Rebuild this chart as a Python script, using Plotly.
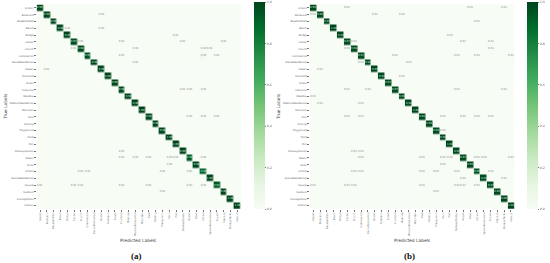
import plotly.graph_objects as go

categories = ["Airport","BareLand","BaseballField","Beach","Bridge","Center","Church","Commercial",
    "DenseResidential","Desert","Farmland","Forest","Industrial","Meadow","MediumResidential","Mountain",
    "Park","Parking","Playground","Pond","Port","RailwayStation","Resort","River","School",
    "SparseResidential","Square","Stadium","StorageTanks","Viaduct"]

diag_a = [0.99,0.99,0.99,0.98,0.99,0.97,0.98,0.95,0.99,0.99,0.99,0.99,0.98,0.99,0.99,1.00,
          0.98,0.99,0.99,1.00,1.00,0.99,0.93,0.98,0.90,1.00,0.93,0.99,1.00,1.00]
diag_b = [0.99,0.98,0.99,1.00,0.99,0.97,0.98,0.97,0.98,0.99,0.98,0.97,0.97,0.99,0.98,1.00,
          0.98,0.99,0.98,0.99,1.00,0.99,0.97,0.99,0.95,0.98,0.97,0.99,0.99,1.00]
off_a = [(1,9,.01),(3,4,.01),(3,9,.01),(4,20,.01),(5,6,.01),(5,12,.01),(5,21,.01),(5,27,.01),
         (6,5,.01),(6,14,.01),(6,24,.02),(6,25,.01),(7,12,.01),(7,24,.04),(7,26,.01),(8,14,.01),
         (9,1,.01),(12,21,.01),(12,22,.01),(12,24,.01),(16,22,.01),(16,24,.01),(16,26,.01),
         (21,12,.01),(22,12,.01),(22,14,.01),(22,16,.01),(22,19,.01),(22,20,.01),(22,24,.01),
         (23,19,.01),(24,6,.01),(24,7,.01),(24,18,.01),(24,22,.02),(26,0,.01),(26,5,.01),
         (26,6,.01),(26,12,.01),(26,16,.01),(26,22,.02),(26,24,.01),(27,18,.01)]
off_b = [(0,5,.01),(0,23,.01),(0,28,.01),(1,0,.01),(1,9,.01),(1,13,.01),(2,24,.01),(4,20,.01),
         (5,6,.01),(5,22,.01),(5,26,.01),(6,5,.01),(6,26,.01),(7,12,.01),(7,21,.01),(7,24,.01),
         (7,29,.01),(8,7,.01),(8,14,.01),(9,1,.01),(10,13,.01),(12,5,.01),(12,8,.01),(12,21,.01),
         (12,28,.01),(13,0,.01),(14,1,.01),(14,7,.01),(16,5,.01),(16,7,.01),(16,19,.01),(16,22,.01),
         (16,24,.01),(16,26,.01),(18,19,.01),(21,6,.01),(21,7,.01),(22,7,.01),(22,16,.01),(22,19,.01),
         (22,20,.01),(22,24,.01),(22,25,.01),(22,29,.01),(23,19,.01),(24,6,.01),(24,7,.01),(24,16,.01),
         (24,18,.01),(24,21,.01),(24,26,.01),(25,22,.01),(25,28,.01),(26,0,.01),(26,5,.01),(26,6,.01),
         (26,16,.01),(26,21,.01),(26,22,.01),(26,24,.01),(27,18,.01)]

GREENS = ["#f7fcf5","#e5f5e0","#c7e9c0","#a1d99b","#74c476","#41ab5d","#238b45","#006d2c","#00441b"]
W, H = 550, 263


def matrix(diag, off):
    z = [[0.0] * len(categories) for _ in categories]
    for i, v in enumerate(diag):
        z[i][i] = v
    for r, c, v in off:
        z[r][c] = v
    return z


def labels(z):
    out = []
    for row in z:
        cells = []
        for v in row:
            if v <= 0:
                cells.append("")
            elif v < 0.5:
                cells.append(f"<span style='color:#8a8a8a'>{v:.2f}</span>")
            else:
                cells.append(f"<span style='color:#dfeee0'>{v:.2f}</span>")
        out.append(cells)
    return out


fig = go.Figure()
panels = [
    (diag_a, off_a, "", (36.6, 240.7), 254, 136, "(a)"),
    (diag_b, off_b, "2", (309.9, 514.4), 527, 409, "(b)"),
]
top, bottom = 4.5, 209.0
label_color = "#666"
for diag, off, ax, (x0, x1), cbx, midx, tag in panels:
    z = matrix(diag, off)
    fig.add_trace(go.Heatmap(
        z=z, x=categories, y=categories, text=labels(z), texttemplate="%{text}",
        textfont=dict(size=2.6, family="DejaVu Sans"),
        colorscale=[[i / 8, c] for i, c in enumerate(GREENS)], zmin=0, zmax=1,
        xgap=0.5, ygap=0.5, xaxis="x" + ax, yaxis="y" + ax, hoverinfo="skip",
        colorbar=dict(
            x=cbx / W, xanchor="left", xpad=0, y=1 - bottom / H, yanchor="bottom", ypad=0,
            thickness=10.5, thicknessmode="pixels", len=(bottom - top + 2) / H, lenmode="fraction",
            tick0=0, dtick=0.2, tickformat=".1f", ticks="outside", ticklen=1.5, tickwidth=0.4,
            tickcolor="#777", outlinewidth=0,
            tickfont=dict(size=3.2, family="DejaVu Sans", color=label_color),
        ),
    ))
    axis_common = dict(
        tickfont=dict(size=2.5, family="DejaVu Sans", color=label_color), ticks="outside", ticklen=1.5,
        tickwidth=0.4, tickcolor="#777", showgrid=False, zeroline=False, showline=False,
        type="category", dtick=1,
    )
    fig.layout["xaxis" + ax] = dict(domain=[x0 / W, x1 / W], anchor="y" + ax, tickangle=-90, **axis_common)
    fig.layout["yaxis" + ax] = dict(domain=[1 - bottom / H, 1 - top / H], anchor="x" + ax,
                                    autorange="reversed", **axis_common)
    common = dict(xref="paper", yref="paper", xanchor="center", yanchor="middle", showarrow=False)
    fig.add_annotation(text="Predicted Labels", x=(x0 + x1) / 2 / W, y=1 - 240 / H,
                       font=dict(size=4.4, family="DejaVu Sans", color="#444"), **common)
    fig.add_annotation(text="True Labels", x=(x0 - 31.5) / W, y=1 - 106.5 / H, textangle=-90,
                       font=dict(size=4.4, family="DejaVu Sans", color="#444"), **common)
    fig.add_annotation(text=f"<b>{tag}</b>", x=midx / W, y=1 - 255.5 / H,
                       font=dict(size=9, family="Liberation Serif", color="#111"), **common)

fig.update_layout(width=W, height=H, margin=dict(l=0, r=0, t=0, b=0), paper_bgcolor="white",
                  plot_bgcolor="#f7fcf5", showlegend=False)
fig.write_html("out.html", config={"displayModeBar": False},
               post_script="document.body.style.margin='0';document.documentElement.style.overflow='hidden';")
